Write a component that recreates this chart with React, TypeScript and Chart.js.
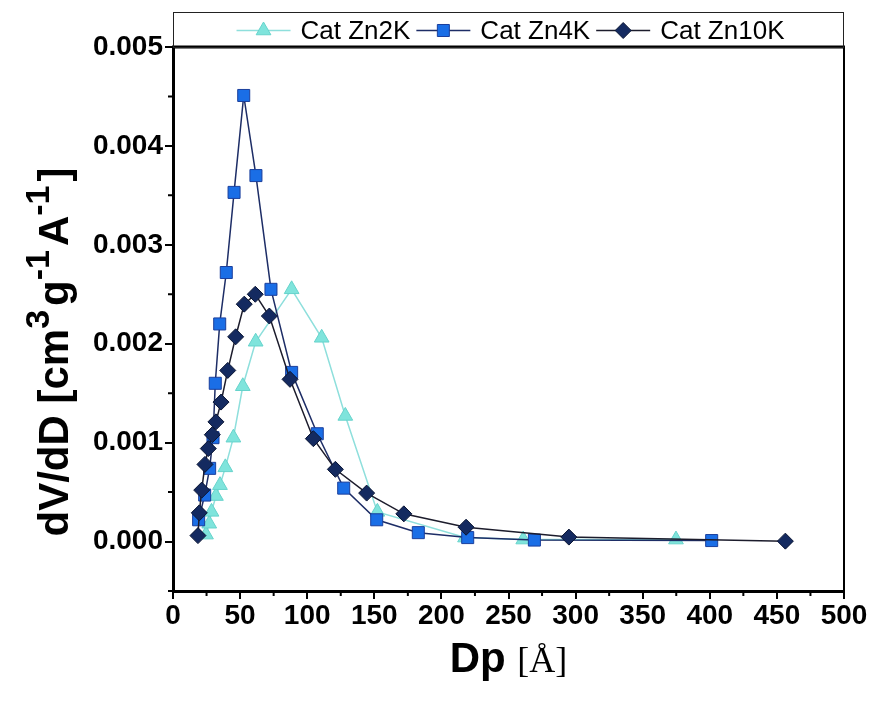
import { useEffect, useRef } from 'react';
import { Chart, registerables } from 'chart.js';

Chart.register(...registerables);

// ---- Data (Dp in Å, dV/dD in cm3 g-1 A-1) ----
const zn2kD = [24.6, 27.0, 28.7, 32.0, 35.0, 39.0, 45.0, 52.0, 61.6, 88.4, 110.8, 128.4, 152.3, 217.6, 261.0, 374.8];
const zn2kV = [0.00007, 0.00018, 0.0003, 0.00046, 0.00057, 0.00075, 0.00105, 0.00157, 0.00202, 0.00255, 0.00206, 0.00127, 0.0003, 0.00004, 0.00002, 0.00002];

const zn4kD = [19.1, 23.6, 27.3, 29.8, 31.5, 34.8, 39.7, 45.5, 52.7, 61.8, 73.0, 88.4, 107.5, 127.2, 151.8, 182.8, 219.6, 269.3, 401.4];
const zn4kV = [0.00022, 0.00047, 0.00074, 0.00105, 0.0016, 0.0022, 0.00272, 0.00353, 0.00451, 0.0037, 0.00255, 0.00171, 0.00109, 0.00054, 0.00022, 0.00009, 0.00004, 0.000015, 0.00001];

const zn10kD = [18.6, 19.6, 21.4, 23.8, 26.3, 29.3, 32.0, 35.8, 40.8, 46.7, 53.1, 61.3, 71.8, 87.2, 104.6, 121.0, 144.3, 172.0, 218.4, 295.0, 456.3];
const zn10kV = [0.00006, 0.00029, 0.00052, 0.00078, 0.00094, 0.00108, 0.00121, 0.00141, 0.00173, 0.00207, 0.0024, 0.0025, 0.00228, 0.00164, 0.00104, 0.00073, 0.00049, 0.00028, 0.000145, 0.000045, 0.000004];

const seriesNames = ['Cat Zn2K', 'Cat Zn4K', 'Cat Zn10K'];
const xMajorTicks = [0, 50, 100, 150, 200, 250, 300, 350, 400, 450, 500];
const xMinorTicks = [25, 75, 125, 175, 225, 275, 325, 375, 425, 475];
const yMajorTicks = [0, 0.001, 0.002, 0.003, 0.004, 0.005];
const yMinorTicks = [-0.0005, 0.0005, 0.0015, 0.0025, 0.0035, 0.0045];

const SANS = '"Liberation Sans", Arial, sans-serif';
const SERIF = '"Liberation Serif", "Times New Roman", serif';

const toPoints = (xs: number[], ys: number[]) => xs.map((x, i) => ({ x, y: ys[i] }));

type Seg = { t: string; f: string; dy: number; after?: number };

function drawSegs(ctx: CanvasRenderingContext2D, segs: Seg[], x0: number, y0: number) {
  let x = x0;
  for (const s of segs) {
    ctx.font = s.f;
    ctx.fillText(s.t, x, y0 + s.dy);
    x += ctx.measureText(s.t).width + (s.after || 0);
  }
}
function segsWidth(ctx: CanvasRenderingContext2D, segs: Seg[]) {
  let w = 0;
  for (const s of segs) {
    ctx.font = s.f;
    w += ctx.measureText(s.t).width + (s.after || 0);
  }
  return w;
}

function drawMarker(ctx: CanvasRenderingContext2D, style: string, x: number, y: number, r: number, fill: string, stroke: string) {
  ctx.beginPath();
  if (style === 'triangle') {
    ctx.moveTo(x, y - r);
    ctx.lineTo(x + r * 0.866, y + r / 2);
    ctx.lineTo(x - r * 0.866, y + r / 2);
    ctx.closePath();
  } else if (style === 'rect') {
    const s = r * Math.SQRT1_2;
    ctx.rect(x - s, y - s, 2 * s, 2 * s);
  } else {
    ctx.moveTo(x, y - r);
    ctx.lineTo(x + r, y);
    ctx.lineTo(x, y + r);
    ctx.lineTo(x - r, y);
    ctx.closePath();
  }
  ctx.fillStyle = fill;
  ctx.fill();
  ctx.lineWidth = 1;
  ctx.strokeStyle = stroke;
  ctx.stroke();
}

const decorPlugin = {
  id: 'decor',
  afterDraw(chart: any) {
    const ctx: CanvasRenderingContext2D = chart.ctx;
    const { left, right, top, bottom } = chart.chartArea;
    const xs = chart.scales.x;
    const ys = chart.scales.y;
    ctx.save();
    // top + right frame
    ctx.strokeStyle = '#000';
    ctx.lineWidth = 3;
    ctx.beginPath();
    ctx.moveTo(left - 1, top);
    ctx.lineTo(right + 1, top);
    ctx.stroke();
    ctx.lineWidth = 2;
    ctx.beginPath();
    ctx.moveTo(right, top);
    ctx.lineTo(right, bottom);
    ctx.stroke();
    // minor ticks
    ctx.lineWidth = 2;
    ctx.beginPath();
    for (const v of xMinorTicks) {
      const px = xs.getPixelForValue(v);
      ctx.moveTo(px, bottom);
      ctx.lineTo(px, bottom + 5);
    }
    for (const v of yMinorTicks) {
      const py = ys.getPixelForValue(v);
      ctx.moveTo(left, py);
      ctx.lineTo(left - 5, py);
    }
    ctx.stroke();

    // legend box
    const boxTop = 12;
    ctx.lineWidth = 1;
    ctx.strokeStyle = '#222';
    ctx.strokeRect(left + 0.5, boxTop + 0.5, right - left - 1, top - boxTop);
    ctx.font = `26px ${SANS}`;
    const lineLen = 54;
    const gap = 10;
    const itemGap = 6;
    const widths = seriesNames.map((n) => ctx.measureText(n).width);
    const total = widths.reduce((a, b) => a + b, 0) + 3 * (lineLen + gap) + 2 * itemGap;
    let x = (left + right) / 2 - total / 2 + 2;
    const cy = (boxTop + top) / 2 + 1;
    chart.data.datasets.slice().sort((a: any, b: any) => a.legendIndex - b.legendIndex).forEach((ds: any, i: number) => {
      ctx.strokeStyle = ds.borderColor;
      ctx.lineWidth = 1.5;
      ctx.beginPath();
      ctx.moveTo(x, cy);
      ctx.lineTo(x + lineLen, cy);
      ctx.stroke();
      drawMarker(ctx, ds.pointStyle, x + lineLen / 2, cy, ds.pointRadius, ds.pointBackgroundColor, ds.pointBorderColor);
      x += lineLen + gap;
      ctx.fillStyle = '#000';
      ctx.font = `26px ${SANS}`;
      ctx.textBaseline = 'middle';
      ctx.textAlign = 'left';
      ctx.fillText(seriesNames[i], x, cy + 1);
      x += widths[i] + itemGap;
    });

    // x title
    ctx.fillStyle = '#000';
    ctx.textBaseline = 'alphabetic';
    const xSegs: Seg[] = [
      { t: 'Dp ', f: `bold 42px ${SANS}`, dy: 0 },
      { t: '[Å]', f: `36px ${SERIF}`, dy: 0 },
    ];
    const xw = segsWidth(ctx, xSegs);
    drawSegs(ctx, xSegs, (left + right) / 2 - xw / 2, 672);

    // y title (rotated)
    const main = `bold 42px ${SANS}`;
    const sup = `bold 34px ${SANS}`;
    const ySegs: Seg[] = [
      { t: 'dV/dD [cm', f: main, dy: 0 },
      { t: '3', f: sup, dy: -19, after: 4 },
      { t: 'g', f: main, dy: 0 },
      { t: '-1', f: sup, dy: -19, after: 4 },
      { t: 'A', f: main, dy: 0 },
      { t: '-1', f: sup, dy: -19, after: 4 },
      { t: ']', f: main, dy: 0 },
    ];
    const yw = segsWidth(ctx, ySegs);
    ctx.translate(68, 352);
    ctx.rotate(-Math.PI / 2);
    drawSegs(ctx, ySegs, -yw / 2, 0);
    ctx.restore();
  },
};

export default function App() {
  const ref = useRef<HTMLCanvasElement | null>(null);
  useEffect(() => {
    document.body.style.margin = '0';
    const canvas = ref.current;
    if (!canvas) return;
    const tickFont = { family: SANS, size: 28, weight: 'bold' as const };
    const chart = new Chart(canvas, {
      type: 'line',
      data: {
        datasets: [
          {
            label: seriesNames[2],
            legendIndex: 2,
            data: toPoints(zn10kD, zn10kV),
            borderColor: '#1c1c2c',
            borderWidth: 1.5,
            pointStyle: 'rectRot',
            pointRadius: 8,
            pointBackgroundColor: '#142a60',
            pointBorderColor: '#0a1533',
            pointBorderWidth: 1,
            order: 0,
          } as any,
          {
            label: seriesNames[1],
            legendIndex: 1,
            data: toPoints(zn4kD, zn4kV),
            borderColor: '#1d2d66',
            borderWidth: 1.5,
            pointStyle: 'rect',
            pointRadius: 8.5,
            pointBackgroundColor: '#1a6ee6',
            pointBorderColor: '#1b3f9c',
            pointBorderWidth: 1,
            order: 1,
          } as any,
          {
            label: seriesNames[0],
            legendIndex: 0,
            data: toPoints(zn2kD, zn2kV),
            borderColor: '#8edfdc',
            borderWidth: 1.5,
            pointStyle: 'triangle',
            pointRadius: 8.5,
            pointBackgroundColor: '#7fe4dc',
            pointBorderColor: '#66d3cb',
            pointBorderWidth: 1,
            order: 2,
          } as any,
        ],
      },
      options: {
        animation: false,
        responsive: false,
        devicePixelRatio: 1,
        layout: { padding: { left: 0, right: 28, top: 47, bottom: 0 } },
        plugins: { legend: { display: false }, tooltip: { enabled: false } },
        elements: { line: { tension: 0 } },
        scales: {
          x: {
            type: 'linear',
            min: 0,
            max: 500,
            afterBuildTicks: (s: any) => {
              s.ticks = xMajorTicks.map((v) => ({ value: v }));
            },
            afterFit: (s: any) => {
              s.height = 113;
              s.paddingLeft = 0;
              s.paddingRight = 0;
            },
            ticks: { font: tickFont, color: '#000', padding: 0, maxRotation: 0, autoSkip: false },
            grid: { drawOnChartArea: false, drawTicks: true, tickLength: 8, color: '#000', lineWidth: 2 },
            border: { display: true, color: '#000', width: 3 },
          },
          y: {
            type: 'linear',
            min: -0.0005,
            max: 0.005,
            afterBuildTicks: (s: any) => {
              s.ticks = yMajorTicks.map((v) => ({ value: v }));
            },
            afterFit: (s: any) => {
              s.width = 173;
              s.paddingTop = 0;
              s.paddingBottom = 0;
            },
            ticks: {
              font: tickFont,
              color: '#000',
              padding: 2,
              autoSkip: false,
              callback: (v: any) => Number(v).toFixed(3),
            },
            grid: { drawOnChartArea: false, drawTicks: true, tickLength: 8, color: '#000', lineWidth: 2 },
            border: { display: true, color: '#000', width: 3 },
          },
        },
      },
      plugins: [decorPlugin],
    });
    return () => chart.destroy();
  }, []);
  return (
    <div style={{ position: 'absolute', left: 0, top: 0, width: 872, height: 704, background: '#fff' }}>
      <canvas ref={ref} width={872} height={704} style={{ display: 'block', width: 872, height: 704 }} />
    </div>
  );
}
